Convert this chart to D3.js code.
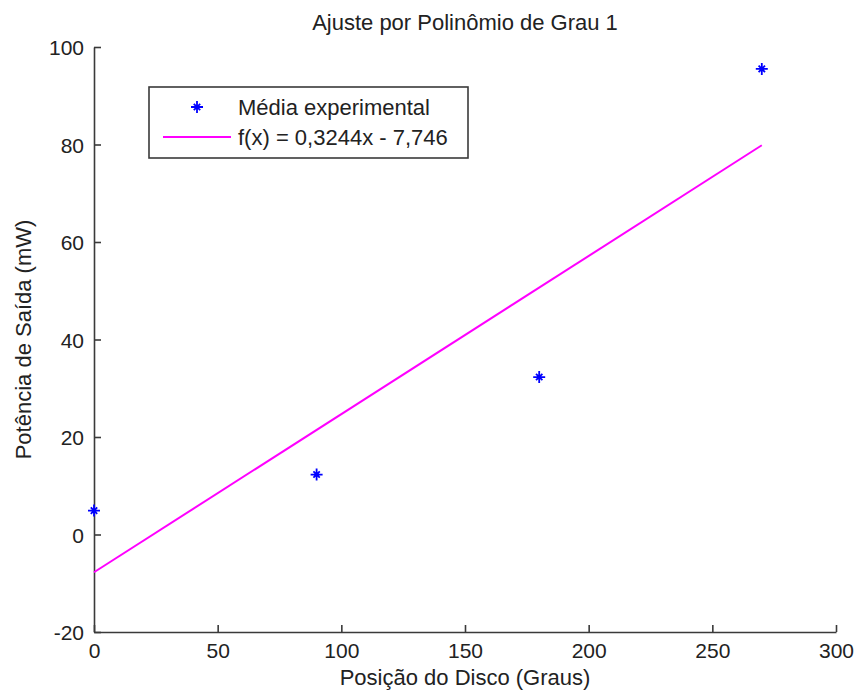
<!DOCTYPE html>
<html>
<head>
<meta charset="utf-8">
<script src="https://cdn.jsdelivr.net/npm/d3@7"></script>
<style>
  body { margin: 0; background: #fff; }
  text { font-family: 'Liberation Sans', Arial, sans-serif; fill: #222; }
</style>
</head>
<body>
<div id="chart"></div>
<script>
const posicao = [0, 90, 180, 270]
const potencia = [4.9, 12.3, 32.3, 95.5]
const coefA = 0.3244
const coefB = -7.746
const xTicks = [0, 50, 100, 150, 200, 250, 300]
const yTicks = [-20, 0, 20, 40, 60, 80, 100]
const legendLabels = ['Média experimental', 'f(x) = 0,3244x - 7,746']

const width = 856
const height = 692
const margin = { top: 47, right: 20, bottom: 60, left: 94 }
const gridWidth = 836 - margin.left
const gridHeight = 632 - margin.top

const svg = d3.select('#chart')
  .append('svg')
  .attr('width', width)
  .attr('height', height)

const g = svg.append('g')
  .attr('transform', `translate(${margin.left}, ${margin.top})`)

const xScale = d3.scaleLinear().domain([0, 300]).range([0, gridWidth])
const yScale = d3.scaleLinear().domain([-20, 100]).range([gridHeight, 0])

// eixos (ticks para dentro), hifen simples como no original
const fmt = v => String(v)
const xAxis = d3.axisBottom(xScale).tickValues(xTicks).tickFormat(fmt).tickSize(-7).tickSizeOuter(0).tickPadding(11)
const yAxis = d3.axisLeft(yScale).tickValues(yTicks).tickFormat(fmt).tickSize(-7).tickSizeOuter(0).tickPadding(10)

const xAxisg = g.append('g')
  .attr('transform', `translate(0, ${gridHeight})`)
  .call(xAxis)
const yAxisg = g.append('g').call(yAxis)

;[xAxisg, yAxisg].forEach(a => {
  a.select('.domain').attr('stroke', '#3a3a3a').attr('stroke-width', 1.6)
  a.selectAll('.tick line').attr('stroke', '#3a3a3a').attr('stroke-width', 1.6)
  a.selectAll('.tick text')
    .style('font-family', "'Liberation Sans', Arial, sans-serif")
    .style('font-size', '21px')
    .attr('fill', '#222')
})
yAxisg.selectAll('.tick text').attr('dy', '0.36em')
xAxisg.selectAll('.tick text').attr('dy', '0.72em')

// reta ajustada
const fit = x => coefA * x + coefB
const line = d3.line().x(d => xScale(d)).y(d => yScale(fit(d)))
g.append('path')
  .datum([posicao[0], posicao[posicao.length - 1]])
  .attr('d', line)
  .attr('fill', 'none')
  .attr('stroke', '#ff00ff')
  .attr('stroke-width', 2)

// marcador asterisco
const starPath = 'M0,-6V6M-6,0H6M-3.2,-3.2L3.2,3.2M-3.2,3.2L3.2,-3.2'

g.selectAll('path.pt')
  .data(posicao.map((x, i) => ({ x, y: potencia[i] })))
  .enter()
  .append('path')
  .classed('pt', true)
  .attr('d', starPath)
  .attr('transform', d => `translate(${xScale(d.x)}, ${yScale(d.y)})`)
  .attr('stroke', '#0000ff')
  .attr('stroke-width', 1.8)
  .attr('fill', 'none')

// titulo e rotulos
svg.append('text')
  .attr('x', margin.left + gridWidth / 2)
  .attr('y', 30)
  .attr('text-anchor', 'middle')
  .style('font-size', '22px')
  .text('Ajuste por Polinômio de Grau 1')

svg.append('text')
  .attr('x', margin.left + gridWidth / 2)
  .attr('y', 685)
  .attr('text-anchor', 'middle')
  .style('font-size', '22px')
  .text('Posição do Disco (Graus)')

svg.append('text')
  .attr('transform', `translate(31, ${margin.top + gridHeight / 2}) rotate(-90)`)
  .attr('text-anchor', 'middle')
  .style('font-size', '22px')
  .text('Potência de Saída (mW)')

// legenda
const leg = svg.append('g').attr('transform', 'translate(149, 87)')
leg.append('rect')
  .attr('width', 319)
  .attr('height', 71)
  .attr('fill', '#fff')
  .attr('stroke', '#3a3a3a')
  .attr('stroke-width', 1.6)

leg.append('path')
  .attr('d', starPath)
  .attr('transform', 'translate(48, 20)')
  .attr('stroke', '#0000ff')
  .attr('stroke-width', 1.8)
  .attr('fill', 'none')

leg.append('line')
  .attr('x1', 14).attr('x2', 82)
  .attr('y1', 50).attr('y2', 50)
  .attr('stroke', '#ff00ff')
  .attr('stroke-width', 2)

leg.selectAll('text.lbl')
  .data(legendLabels)
  .enter()
  .append('text')
  .classed('lbl', true)
  .attr('x', 89)
  .attr('y', (d, i) => 28 + i * 30)
  .style('font-size', '22px')
  .text(d => d)
</script>
</body>
</html>
